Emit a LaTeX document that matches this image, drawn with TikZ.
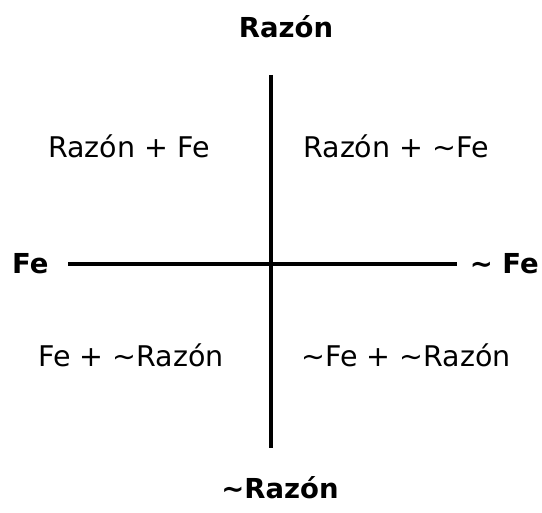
\documentclass[tikz,border=0pt]{standalone}
\usepackage{fontspec}
\setmainfont{DejaVu Sans}
\usepackage{xcolor}
\usepackage{tikz}
\usetikzlibrary{
  calc,
  positioning
}
\tikzset{
  axislabel/.style={
    font=\fontsize{27.5}{32}\selectfont\bfseries,
    inner sep=0pt,
    anchor=base
  },
  quadrant/.style={
    font=\fontsize{28.5}{33}\selectfont,
    inner sep=0pt,
    anchor=base
  },
  axis/.style={
    line width=3.4pt,
    draw=black
  }
}

\begin{document}
\begin{tikzpicture}[x=1pt, y=-1pt]
  \useasboundingbox (0,0) rectangle (542,513);

  % axes
  \coordinate (north) at (271,75);
  \coordinate (south) at (271,448);
  \coordinate (west)  at (68,264);
  \coordinate (east)  at (457,264);
  \draw[axis] (north) -- (south);
  \draw[axis] (west) -- (east);

  % ends of the axes
  \node[axislabel] (razon)  at (286,38) {Razón};
  \node[axislabel] (norazon) at (280,499) {\textasciitilde Razón};
  \node[axislabel, anchor=base west] (fe) at (12,274) {Fe};
  \node[axislabel, anchor=base east] (nofe) at (539,274) {\textasciitilde\ Fe};

  % quadrants
  \node[quadrant] (q1) at (129,158) {Razón + Fe};
  \node[quadrant] (q2) at (396,158) {Razón + \textasciitilde Fe};
  \node[quadrant] (q3) at (131,367) {Fe + \textasciitilde Razón};
  \node[quadrant] (q4) at (406,367) {\textasciitilde Fe + \textasciitilde Razón};
\end{tikzpicture}
\end{document}
